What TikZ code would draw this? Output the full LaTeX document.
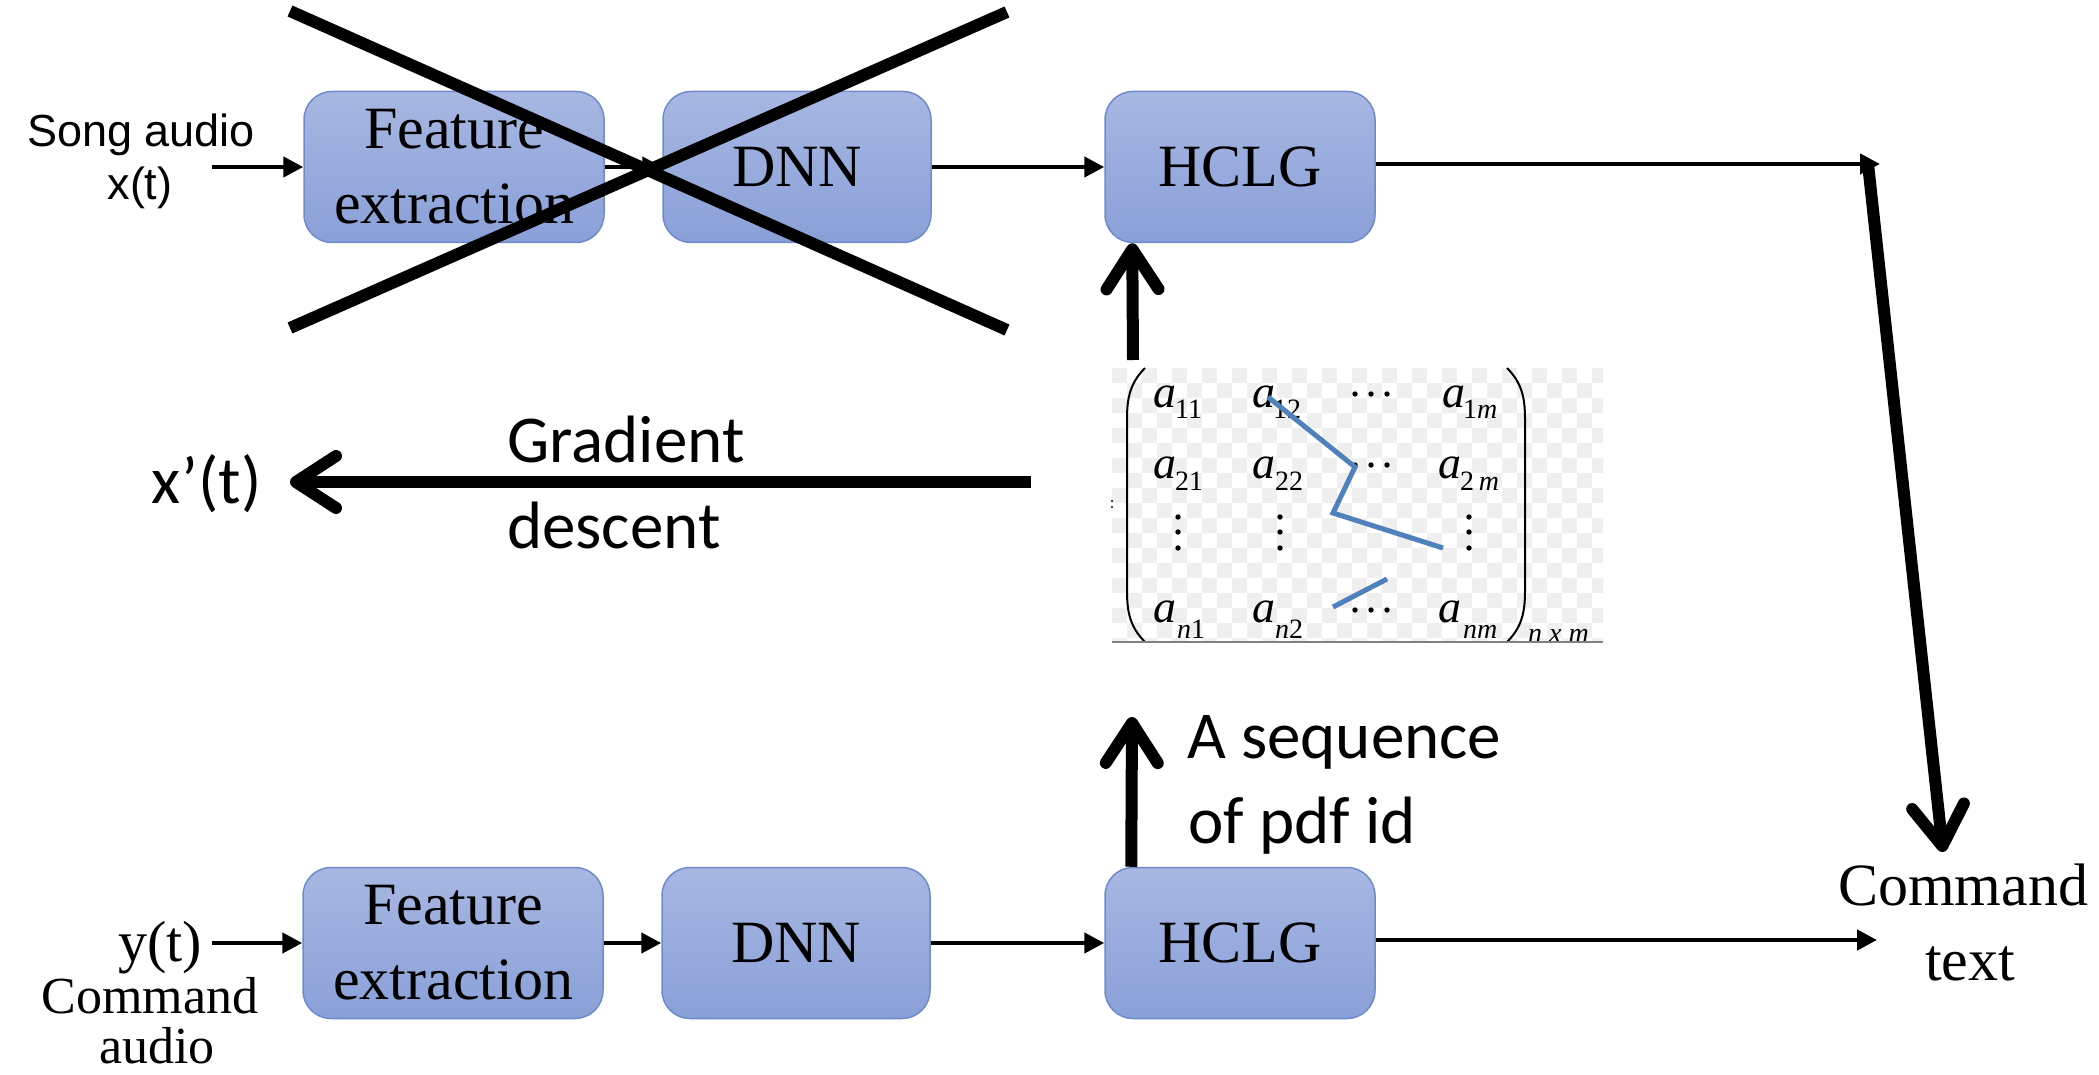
\documentclass[tikz,border=0pt]{standalone}
\usepackage{fontspec}
\setmainfont{Liberation Serif}
\newfontfamily\calfont{Carlito}
\newfontfamily\arialfont{Liberation Sans}
\usetikzlibrary{arrows.meta}
\definecolor{boxtop}{RGB}{168,183,226}
\definecolor{boxbot}{RGB}{137,160,216}
\definecolor{boxline}{RGB}{110,140,205}
\definecolor{pathblue}{RGB}{79,129,189}
\definecolor{checker}{RGB}{239,239,239}
\begin{document}
\begin{tikzpicture}[x=1pt,y=-1pt,
  blockbox/.style={rounded corners=28pt, top color=boxtop, bottom color=boxbot, draw=boxline, line width=1.5pt, minimum height=151pt, inner sep=0pt, align=center, font=\fontsize{60}{75}\selectfont},
  thinarrow/.style={line width=4.5pt, -{Triangle[length=20pt,width=20pt]}},
  bigarrow/.style={line width=12pt, -{Straight Barb[length=40pt,width=52pt,round]}},
  crossline/.style={line width=12pt},
  calib/.style={inner sep=0pt, anchor=base west, font=\calfont\fontsize{67}{67}\selectfont},
  ent/.style={inner sep=0pt, anchor=base west, font=\fontsize{46}{46}\selectfont\itshape},
  subs/.style={inner sep=0pt, anchor=base west, font=\fontsize{28}{28}\selectfont},
  mdot/.style={fill=black},
  serlbl/.style={inner sep=0pt, anchor=base}
]
\useasboundingbox (0,0) rectangle (2099,1075);
\fill[white] (0,0) rectangle (2099,1075);

% ---------- blocks ----------
\node[blockbox, minimum width=300pt] (fe1) at (454,167) {Feature\\extraction};
\node[blockbox, minimum width=268pt] (dnn1) at (797,167) {DNN};
\node[blockbox, minimum width=270pt] (hclg1) at (1240,167) {HCLG};
\node[blockbox, minimum width=300pt] (fe2) at (453,943) {Feature\\extraction};
\node[blockbox, minimum width=268pt] (dnn2) at (796,943) {DNN};
\node[blockbox, minimum width=270pt] (hclg2) at (1240,943) {HCLG};

% ---------- input labels ----------
\node[inner sep=0pt, anchor=base, font=\arialfont\fontsize{45}{45}\selectfont] (song) at (141,147) {Song audio};
\node[inner sep=0pt, anchor=base, font=\arialfont\fontsize{45}{45}\selectfont] (xt) at (140,200) {x(t)};
\node[serlbl, font=\fontsize{58}{58}\selectfont] (yt) at (160,961) {y(t)};
\node[serlbl, font=\fontsize{52}{52}\selectfont] (cmdA) at (150,1013) {Command};
\node[serlbl, font=\fontsize{52}{52}\selectfont] (audA) at (157,1063) {audio};

% ---------- output labels ----------
\node[serlbl, font=\fontsize{60}{60}\selectfont] (cmdT) at (1963,905) {Command};
\node[serlbl, font=\fontsize{60}{60}\selectfont] (txtT) at (1970,980) {text};

% ---------- other labels ----------
\node[calib] (xp) at (151,503) {x’(t)};
\node[calib] (grad) at (507,462) {Gradient};
\node[calib] (desc) at (507,548) {descent};
\node[calib] (seqA) at (1187,758) {A sequence};
\node[calib] (seqB) at (1188,843) {of pdf id};

% ---------- matrix picture ----------
\node[minimum width=491pt, minimum height=274pt, inner sep=0pt] (mat) at (1357.5,505) {};
\begin{scope}
\clip (1112,368) rectangle (1603,642);
\foreach \i in {0,...,32}{\foreach \j in {0,...,18}{%
  \pgfmathtruncatemacro\p{mod(\i+\j,2)}%
  \ifnum\p=0 \fill[checker] (1112+15*\i,368+15*\j) rectangle ++(15,15);\fi}}
\end{scope}
\draw[line width=2pt] (1145,368) .. controls (1129,384) and (1127,400) .. (1127,420) -- (1127,590) .. controls (1127,610) and (1129,626) .. (1145,642);
\draw[line width=2pt] (1507,368) .. controls (1523,384) and (1525,400) .. (1525,420) -- (1525,590) .. controls (1525,610) and (1523,626) .. (1507,642);
% row 1
\node[ent] (a11) at (1153,407) {a};
\node[subs] at (1175,418) {11};
\node[ent] (a12) at (1252,407) {a};
\node[subs] at (1273,418) {12};
\node[ent] (a1m) at (1442,407) {a};
\node[subs] at (1463,418) {1\textit{m}};
% row 2
\node[ent] (a21) at (1153,478) {a};
\node[subs] at (1175,490) {21};
\node[ent] (a22) at (1252,478) {a};
\node[subs] at (1275,490) {22};
\node[ent] (a2m) at (1438,478) {a};
\node[subs] at (1460,490) {2\,\textit{m}};
% row 4
\node[ent] (an1) at (1153,622) {a};
\node[subs] at (1177,638) {\textit{n}1};
\node[ent] (an2) at (1252,622) {a};
\node[subs] at (1275,638) {\textit{n}2};
\node[ent] (anm) at (1438,622) {a};
\node[subs] at (1463,638) {\textit{nm}};
\node[subs, font=\fontsize{28}{28}\selectfont\itshape] at (1528,642) {n x m};
% dots
\foreach \y in {394,465,610}{\foreach \x in {1355,1371,1387}{\fill[mdot] (\x,\y) circle (2.7);}}
\foreach \x in {1178,1280,1469}{\foreach \y in {517,532,548}{\fill[mdot] (\x,\y) circle (2.7);}}
\fill (1112,501) circle (1.1); \fill (1112,507) circle (1.1);
% path
\draw[pathblue, line width=5pt] (1268,397) -- (1355,467) -- (1333,513) -- (1443,548);
\draw[pathblue, line width=5pt] (1333,607) -- (1387,579);
\draw[gray, line width=1.2pt] (1112,642) -- (1603,642);

% ---------- thin connectors ----------
\coordinate (in1) at (212,167);
\coordinate (in2) at (212,943);
\coordinate (c1) at (1880,164);
\coordinate (c2) at (1877,940);
\draw[thinarrow] (in1) -- (fe1.west);
\draw[thinarrow] (fe1) -- (dnn1);
\draw[thinarrow] (dnn1) -- (hclg1);
\draw[thinarrow] (hclg1.east |- c1) -- (c1);
\draw[thinarrow] (in2) -- (fe2.west);
\draw[thinarrow] (fe2) -- (dnn2);
\draw[thinarrow] (dnn2) -- (hclg2);
\draw[thinarrow] (hclg2.east |- c2) -- (c2);

% ---------- thick connectors ----------
\coordinate (c1b) at (1868,164);
\coordinate (ctip) at (1943,852);
\coordinate (matout) at (1133,360);
\coordinate (seqtip) at (1132,717);
\coordinate (gstart) at (1031,482);
\coordinate (gend) at (290,482);
\draw[bigarrow] (c1b) -- (ctip);
\draw[bigarrow] (matout) -- ([xshift=28pt]hclg1.south west);
\draw[bigarrow] ([xshift=27pt]hclg2.north west) -- (seqtip);
\draw[bigarrow] (gstart) -- (gend);

% ---------- cross ----------
\draw[crossline] (290,11) -- (1007,330);
\draw[crossline] (1007,12) -- (290,328);
\end{tikzpicture}
\end{document}
